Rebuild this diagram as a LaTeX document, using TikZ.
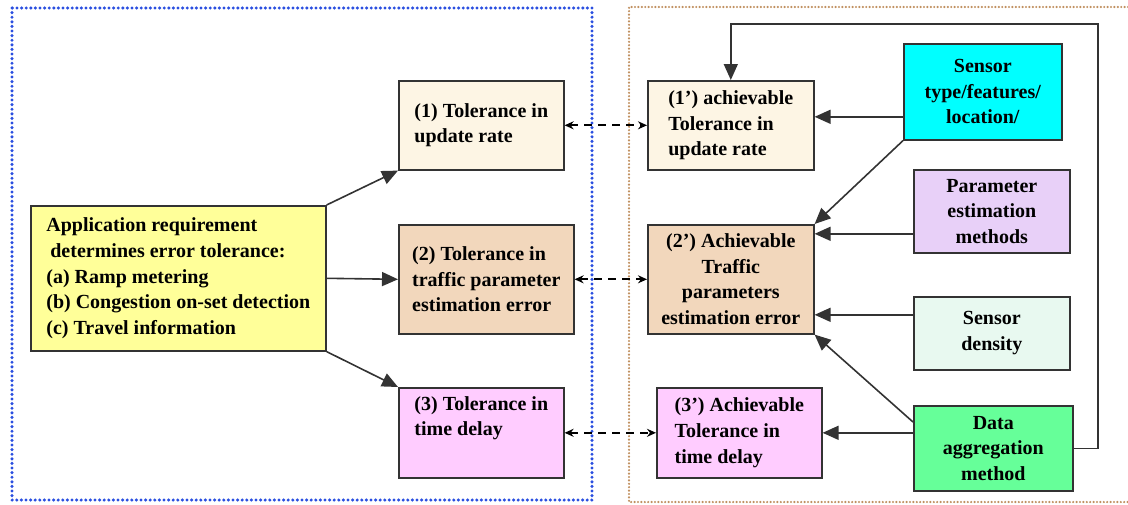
\documentclass[tikz,border=0pt]{standalone}
\usepackage{fontspec}
\setmainfont{Liberation Serif}
\usetikzlibrary{arrows.meta}
\definecolor{geel}{HTML}{FFFF99}
\definecolor{room}{HTML}{FDF5E4}
\definecolor{tan}{HTML}{F2D7BC}
\definecolor{roze}{HTML}{FFCCFF}
\definecolor{cyaan}{HTML}{00FFFF}
\definecolor{lila}{HTML}{E8D0F8}
\definecolor{mint}{HTML}{E8F9F0}
\definecolor{groen}{HTML}{66FF99}
\definecolor{lijn}{HTML}{333333}
\definecolor{kader1}{HTML}{2A4FE0}
\definecolor{kader2}{HTML}{C09060}

\begin{document}
\begin{tikzpicture}[x=0.5pt,y=-0.5pt,>={Triangle[length=8pt,width=7pt]},
kast/.style={rectangle,draw=lijn,line width=0.8pt,anchor=north west,inner sep=2pt,
 font=\bfseries\fontsize{10}{12.8}\selectfont},
pijl/.style={->,draw=lijn,line width=0.8pt},
stippel/.style={<->,>={Stealth[length=4.5pt,width=4pt]},draw=black,line width=0.9pt,dash pattern=on 4pt off 3pt}]
\useasboundingbox (0,0) rectangle (1128,504);
% frames
\draw[kader1,line width=1.7pt,line cap=round,dash pattern=on 0pt off 2.3pt] (12,8) rectangle (592,500);
\draw[kader2,line width=1.2pt,line cap=round,dash pattern=on 0pt off 1.7pt] (1128,7) -- (629,7) -- (629,502) -- (1128,502);
% left part
\node[kast,fill=geel,minimum width=147.5pt,minimum height=72.5pt,align=left](app) at (30,205)
 {Application requirement\\\hspace{2pt}determines error tolerance:\\(a) Ramp metering\\(b) Congestion on-set detection\\(c) Travel information};
\node[kast,fill=room,minimum width=82.5pt,minimum height=44.5pt,align=left](tol1) at (398,80) {(1) Tolerance in\\update rate};
\node[kast,fill=tan,minimum width=87.5pt,minimum height=54.5pt,align=left](tol2) at (398,224) {(2) Tolerance in\\traffic parameter\\estimation error};
\node[kast,fill=roze,minimum width=82.5pt,minimum height=45pt,align=left](tol3) at (398,387) {(3) Tolerance in\\time delay\\\strut};
% right part
\node[kast,fill=room,minimum width=83pt,minimum height=44.5pt,align=left](ach1) at (647,80) {(1') achievable\\Tolerance in\\update rate};
\node[kast,fill=tan,minimum width=83pt,minimum height=54.5pt,align=center](ach2) at (647,224) {(2') Achievable\\Traffic\\parameters\\estimation error};
\node[kast,fill=roze,minimum width=82.5pt,minimum height=45pt,align=left](ach3) at (656,387) {(3') Achievable\\Tolerance in\\time delay};
\node[kast,fill=cyaan,minimum width=79pt,minimum height=48pt,align=center](sens) at (903,43) {Sensor\\type/features/\\location/};
\node[kast,fill=lila,minimum width=78pt,minimum height=41.5pt,align=center](param) at (913,169) {Parameter\\estimation\\methods};
\node[kast,fill=mint,minimum width=78pt,minimum height=36.5pt,align=center](dens) at (913,296) {Sensor\\density};
\node[kast,fill=groen,minimum width=79.5pt,minimum height=42.5pt,align=center](agg) at (913,405) {Data\\aggregation\\method};
\coordinate(bocht) at (1098,24);
% connectors
\draw[pijl] (app.north east)--(tol1.south west);
\draw[pijl] (app.east)--(tol2.west);
\draw[pijl] (app.south east)--(tol3.north west);
\draw[stippel] (tol1.east)--(ach1.west);
\draw[stippel] (tol2.east)--(ach2.west);
\draw[stippel] (tol3.east)--(ach3.west);
\draw[pijl] ([yshift=-12.5pt]sens.west)--([yshift=4.25pt]ach1.east);
\draw[pijl] (sens.south west)--(ach2.north east);
\draw[pijl] ([yshift=-11.25pt]param.west)--([yshift=22.75pt]ach2.east);
\draw[pijl] ([yshift=9.25pt]dens.west)--([yshift=-17.75pt]ach2.east);
\draw[pijl] ([yshift=-8.5pt]agg.north west)--(ach2.south east);
\draw[pijl] ([yshift=7.75pt]agg.west)--(ach3.east);
\draw[pijl] (agg.east)-|(bocht)-|(ach1.north);
\end{tikzpicture}
\end{document}
